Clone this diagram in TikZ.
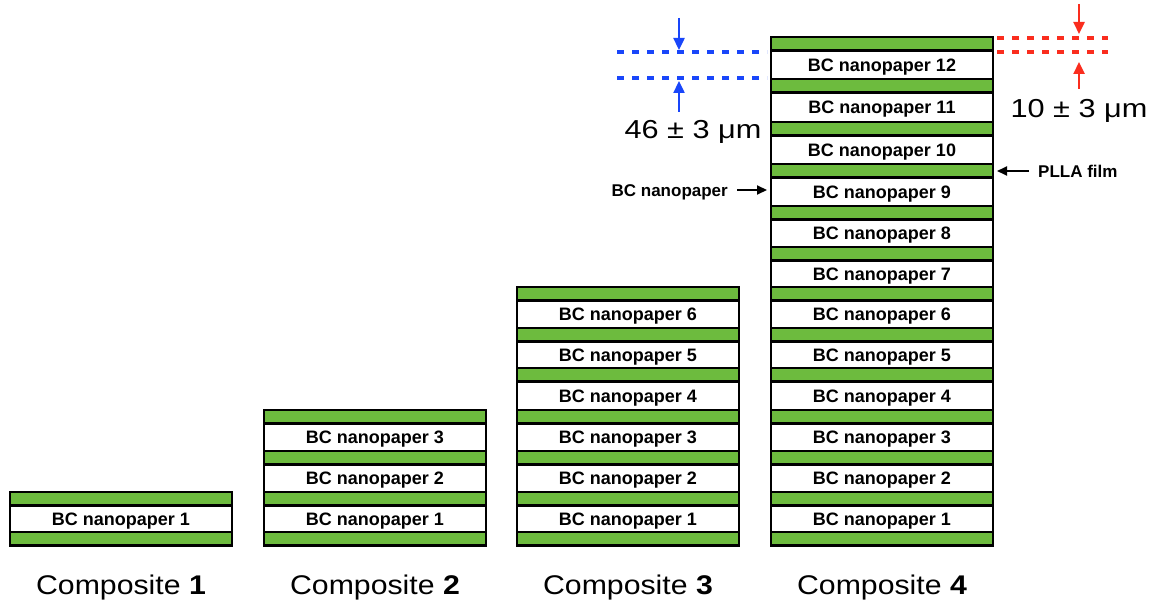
\documentclass[tikz,border=0pt]{standalone}
\usepackage{fontspec}
\usepackage{graphicx}
\setmainfont{Liberation Sans}
\usetikzlibrary{arrows.meta}
\definecolor{pgreen}{RGB}{109,187,62}
\definecolor{dimblue}{RGB}{25,70,250}
\definecolor{dimred}{RGB}{250,45,30}
\tikzset{
  greenlayer/.style={draw=black, line width=2.7pt, fill=pgreen, minimum width=222pt, minimum height=13.5pt, inner sep=0pt, outer sep=0pt, anchor=north west},
  whitelayer/.style={draw=black, line width=2.7pt, fill=white, minimum width=222pt, inner sep=0pt, outer sep=0pt, anchor=north west, text depth=0pt, font=\bfseries\fontsize{18}{20}\selectfont},
  complabel/.style={anchor=base, inner sep=0pt, font=\fontsize{27}{30}\selectfont},
  dimlabel/.style={anchor=base, inner sep=0pt, font=\fontsize{26}{30}\selectfont},
  smalllabel/.style={inner sep=0pt, font=\bfseries\fontsize{17}{20}\selectfont},
  blackarrow/.style={line width=2pt, -{Triangle[length=10pt,width=9pt]}},
  dimarrow/.style={line width=2.4pt, -{Triangle[length=12pt,width=11pt]}},
  dimline/.style={line width=3.2pt, dash pattern=on 7pt off 8pt}
}
\begin{document}
\begin{tikzpicture}[x=1pt,y=-1pt]
\useasboundingbox (0,0) rectangle (1159,607);
\def\tops{{532,492,451,410,368,328,287,247,206,164,122,79,37}}
\foreach \c/\x/\n/\cx in {1/10/1/121, 2/264/3/375, 3/517/6/628, 4/771/12/882} {
  \foreach \i in {0,...,\n} {
    \pgfmathsetmacro\t{\tops[\i]}
    \node[greenlayer] (c\c g\i) at (\x,\t) {};
  }
  \foreach \j in {1,...,\n} {
    \pgfmathsetmacro\ta{\tops[\j]+13.5}
    \pgfmathsetmacro\tb{\tops[\j-1]}
    \pgfmathsetmacro\h{\tb-\ta}
    \node[whitelayer, minimum height=\h pt] (c\c w\j) at (\x,\ta) {BC nanopaper \j};
  }
  \node[complabel] (comp\c) at (\cx,594) {\scalebox{1.12}[1]{Composite \textbf{\c}}};
}
% side labels
\node[smalllabel, anchor=base east] (bclab) at (728,196) {BC nanopaper};
\coordinate (bcs) at (737,190);
\coordinate (bce) at (767,190);
\draw[blackarrow] (bcs) -- (bce);
\node[smalllabel, anchor=base west] (plla) at (1038,177) {PLLA film};
\coordinate (pllas) at (1029,171);
\coordinate (pllae) at (997,171);
\draw[blackarrow] (pllas) -- (pllae);
% blue dimension
\coordinate (b1s) at (617,52); \coordinate (b1e) at (767,52);
\coordinate (b2s) at (617,78); \coordinate (b2e) at (767,78);
\draw[dimline, dimblue] (b1s) -- (b1e);
\draw[dimline, dimblue] (b2s) -- (b2e);
\coordinate (ba1) at (679,18); \coordinate (ba1t) at (679,50);
\coordinate (ba2) at (679,112); \coordinate (ba2t) at (679,81);
\draw[dimarrow, dimblue] (ba1) -- (ba1t);
\draw[dimarrow, dimblue] (ba2) -- (ba2t);
\node[dimlabel] (t46) at (693,139) {\scalebox{1.18}[1]{46 ± 3 μm}};
% red dimension
\coordinate (r1s) at (997,38); \coordinate (r1e) at (1108,38);
\coordinate (r2s) at (997,52); \coordinate (r2e) at (1108,52);
\draw[dimline, dimred] (r1s) -- (r1e);
\draw[dimline, dimred] (r2s) -- (r2e);
\coordinate (ra1) at (1079,4); \coordinate (ra1t) at (1079,34);
\coordinate (ra2) at (1079,89); \coordinate (ra2t) at (1079,62);
\draw[dimarrow, dimred] (ra1) -- (ra1t);
\draw[dimarrow, dimred] (ra2) -- (ra2t);
\node[dimlabel] (t10) at (1079,118) {\scalebox{1.18}[1]{10 ± 3 μm}};
\end{tikzpicture}
\end{document}
